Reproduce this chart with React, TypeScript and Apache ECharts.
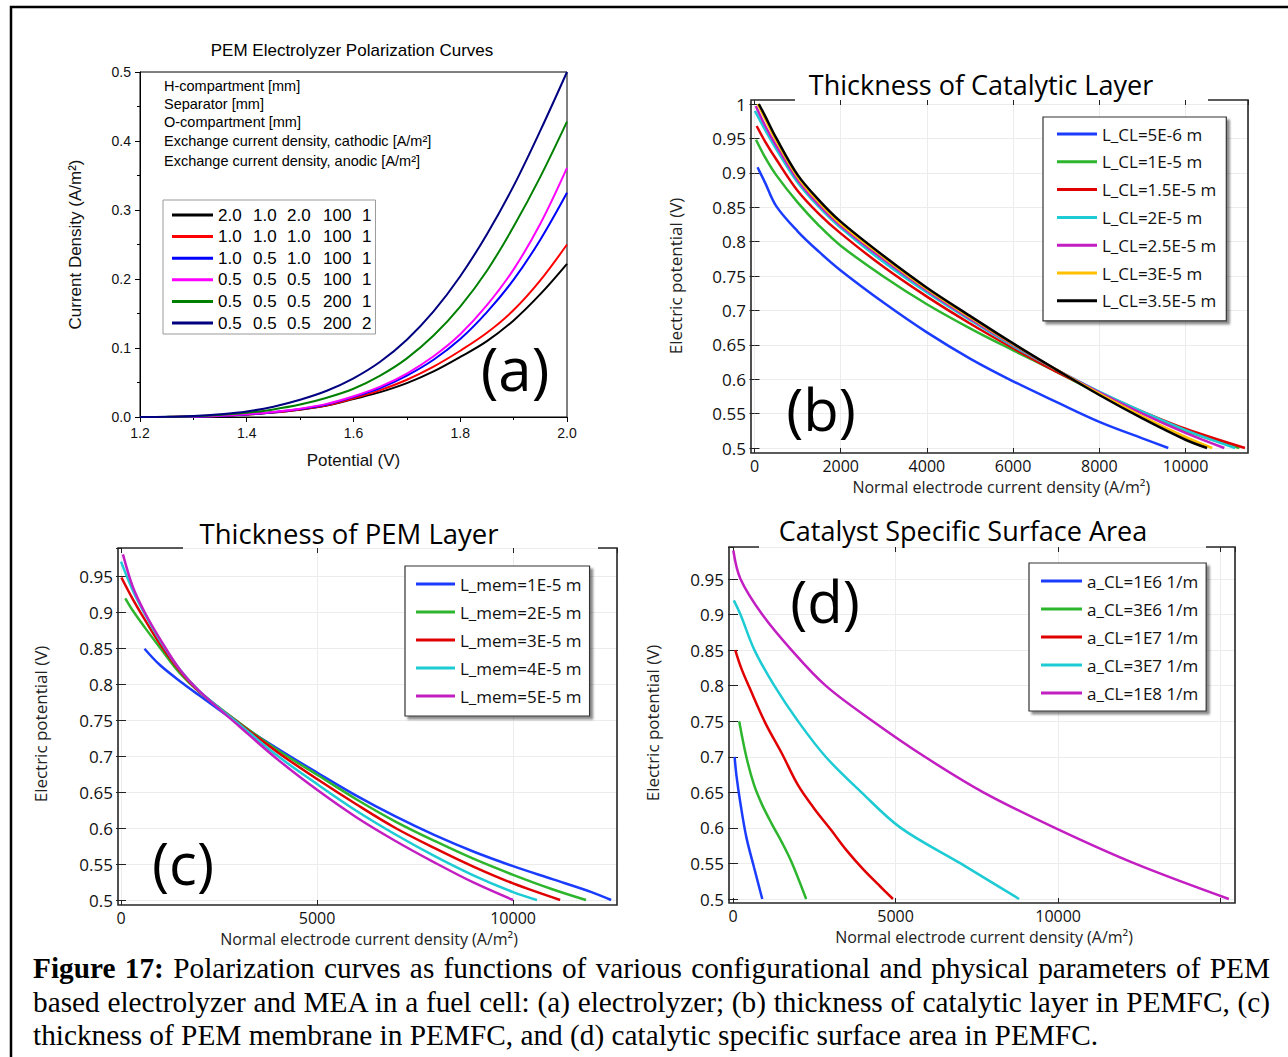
import React, { useEffect, useRef } from 'react';
import * as echarts from 'echarts';

// ---------- Panel (a): PEM electrolyzer ----------
const aPotentialV = [1.2, 1.25, 1.3, 1.35, 1.4, 1.45, 1.5, 1.55, 1.6, 1.65, 1.7, 1.75, 1.8, 1.85, 1.9, 1.95, 2.0];
const aSeriesNames = ['2.0 1.0 2.0 100 1', '1.0 1.0 1.0 100 1', '1.0 0.5 1.0 100 1', '0.5 0.5 0.5 100 1', '0.5 0.5 0.5 200 1', '0.5 0.5 0.5 200 2'];
const aColors = ['#000000', '#ff0000', '#0000ff', '#ff00ff', '#008000', '#000080'];
const aBlack = [0, 0.0001, 0.0005, 0.0015, 0.0035, 0.0065, 0.0105, 0.0165, 0.026, 0.036, 0.049, 0.066, 0.087, 0.11, 0.14, 0.178, 0.222];
const aRed = [0, 0.0001, 0.0005, 0.0015, 0.0035, 0.0067, 0.011, 0.017, 0.027, 0.039, 0.054, 0.073, 0.096, 0.122, 0.155, 0.198, 0.25];
const aBlue = [0, 0.0001, 0.0005, 0.0016, 0.0037, 0.007, 0.0115, 0.018, 0.029, 0.042, 0.06, 0.083, 0.113, 0.152, 0.199, 0.257, 0.325];
const aMagenta = [0, 0.0001, 0.0006, 0.0017, 0.0039, 0.0073, 0.012, 0.019, 0.03, 0.044, 0.063, 0.088, 0.12, 0.162, 0.214, 0.28, 0.361];
const aGreen = [0, 0.0002, 0.001, 0.003, 0.006, 0.011, 0.018, 0.028, 0.041, 0.06, 0.085, 0.118, 0.16, 0.212, 0.276, 0.348, 0.428];
const aNavy = [0, 0.0003, 0.0015, 0.004, 0.008, 0.015, 0.025, 0.038, 0.056, 0.08, 0.112, 0.153, 0.204, 0.265, 0.335, 0.415, 0.5];
const aCurves = [aBlack, aRed, aBlue, aMagenta, aGreen, aNavy];
const aAnnotations = [
  'H-compartment [mm]',
  'Separator [mm]',
  'O-compartment [mm]',
  'Exchange current density, cathodic [A/m\u00b2]',
  'Exchange current density, anodic [A/m\u00b2]',
];

// ---------- COMSOL colour cycle ----------
const cBlue = '#1a3cff';
const cGreen = '#2db52d';
const cRed = '#e00000';
const cCyan = '#1ccbd4';
const cMagenta = '#c21ec2';
const cYellow = '#ffc000';
const cBlack = '#000000';

// ---------- Panel (b): thickness of catalytic layer ----------
const bSeriesNames = ['L_CL=5E-6 m', 'L_CL=1E-5 m', 'L_CL=1.5E-5 m', 'L_CL=2E-5 m', 'L_CL=2.5E-5 m', 'L_CL=3E-5 m', 'L_CL=3.5E-5 m'];
const bColors = [cBlue, cGreen, cRed, cCyan, cMagenta, cYellow, cBlack];
const bL5e6 = [[70, 0.908], [250, 0.885], [500, 0.852], [1000, 0.815], [1500, 0.785], [2000, 0.758], [3000, 0.711], [4000, 0.668], [5000, 0.63], [6000, 0.597], [7000, 0.567], [8000, 0.538], [9000, 0.514], [9600, 0.5]];
const bL1e5 = [[35, 0.948], [250, 0.922], [500, 0.897], [1000, 0.857], [1500, 0.823], [2000, 0.794], [3000, 0.749], [4000, 0.709], [5000, 0.674], [6000, 0.642], [7000, 0.611], [8000, 0.579], [9000, 0.551], [10000, 0.525], [11250, 0.5]];
const bL15e5 = [[50, 0.968], [250, 0.945], [500, 0.92], [1000, 0.874], [1500, 0.84], [2000, 0.812], [3000, 0.763], [4000, 0.72], [5000, 0.681], [6000, 0.645], [7000, 0.611], [8000, 0.581], [9000, 0.553], [10000, 0.528], [11380, 0.5]];
const bL2e5 = [[10, 0.99], [250, 0.962], [500, 0.935], [1000, 0.886], [1500, 0.85], [2000, 0.82], [3000, 0.77], [4000, 0.726], [5000, 0.686], [6000, 0.648], [7000, 0.614], [8000, 0.582], [9000, 0.553], [10000, 0.526], [11150, 0.5]];
const bL25e5 = [[30, 0.997], [250, 0.968], [500, 0.94], [1000, 0.89], [1500, 0.853], [2000, 0.823], [3000, 0.774], [4000, 0.729], [5000, 0.688], [6000, 0.65], [7000, 0.614], [8000, 0.581], [9000, 0.55], [10000, 0.522], [10900, 0.5]];
const bL3e5 = [[75, 1.0], [250, 0.978], [500, 0.947], [1000, 0.894], [1500, 0.857], [2000, 0.826], [3000, 0.777], [4000, 0.731], [5000, 0.69], [6000, 0.651], [7000, 0.614], [8000, 0.579], [9000, 0.546], [10000, 0.516], [10620, 0.5]];
const bL35e5 = [[100, 1.0], [250, 0.982], [500, 0.951], [1000, 0.897], [1500, 0.86], [2000, 0.829], [3000, 0.779], [4000, 0.733], [5000, 0.692], [6000, 0.652], [7000, 0.614], [8000, 0.577], [9000, 0.543], [10000, 0.512], [10500, 0.5]];
const bCurves = [bL5e6, bL1e5, bL15e5, bL2e5, bL25e5, bL3e5, bL35e5];

// ---------- Panel (c): thickness of PEM layer ----------
const cSeriesNames = ['L_mem=1E-5 m', 'L_mem=2E-5 m', 'L_mem=3E-5 m', 'L_mem=4E-5 m', 'L_mem=5E-5 m'];
const cColors = [cBlue, cGreen, cRed, cCyan, cMagenta];
const cM1e5 = [[600, 0.849], [1000, 0.826], [1600, 0.8], [2000, 0.784], [3000, 0.745], [4000, 0.71], [5000, 0.677], [6000, 0.645], [7000, 0.616], [8000, 0.59], [9000, 0.567], [10000, 0.547], [11000, 0.529], [12000, 0.511], [12500, 0.5]];
const cM2e5 = [[110, 0.919], [300, 0.902], [600, 0.879], [1000, 0.85], [1500, 0.815], [2000, 0.789], [3000, 0.747], [4000, 0.708], [5000, 0.674], [6000, 0.64], [7000, 0.609], [8000, 0.582], [9000, 0.557], [10000, 0.535], [11000, 0.515], [11860, 0.5]];
const cM3e5 = [[10, 0.948], [300, 0.918], [600, 0.89], [1000, 0.855], [1500, 0.818], [2000, 0.789], [3000, 0.746], [4000, 0.705], [5000, 0.668], [6000, 0.633], [7000, 0.6], [8000, 0.572], [9000, 0.546], [10000, 0.523], [11200, 0.5]];
const cM4e5 = [[0, 0.97], [300, 0.93], [600, 0.898], [1000, 0.86], [1500, 0.82], [2000, 0.79], [3000, 0.745], [4000, 0.7], [5000, 0.661], [6000, 0.624], [7000, 0.591], [8000, 0.561], [9000, 0.534], [10000, 0.511], [10610, 0.5]];
const cM5e5 = [[50, 0.98], [300, 0.935], [600, 0.9], [1000, 0.862], [1500, 0.82], [2000, 0.79], [3000, 0.742], [4000, 0.695], [5000, 0.653], [6000, 0.615], [7000, 0.582], [8000, 0.552], [9000, 0.524], [10000, 0.5]];
const cCurves = [cM1e5, cM2e5, cM3e5, cM4e5, cM5e5];

// ---------- Panel (d): catalyst specific surface area ----------
const dSeriesNames = ['a_CL=1E6 1/m', 'a_CL=3E6 1/m', 'a_CL=1E7 1/m', 'a_CL=3E7 1/m', 'a_CL=1E8 1/m'];
const dColors = [cBlue, cGreen, cRed, cCyan, cMagenta];
const dA1e6 = [[50, 0.7], [110, 0.672], [230, 0.634], [410, 0.587], [650, 0.544], [900, 0.5]];
const dA3e6 = [[190, 0.75], [410, 0.7], [650, 0.66], [900, 0.632], [1200, 0.605], [1500, 0.58], [1800, 0.552], [2250, 0.5]];
const dA1e7 = [[70, 0.85], [250, 0.825], [500, 0.798], [1000, 0.747], [1500, 0.705], [2000, 0.66], [2500, 0.627], [3000, 0.598], [3500, 0.568], [4000, 0.542], [4500, 0.519], [4920, 0.5]];
const dA3e7 = [[25, 0.92], [230, 0.9], [660, 0.85], [1270, 0.8], [2000, 0.75], [2850, 0.7], [3950, 0.65], [5160, 0.6], [7000, 0.55], [8800, 0.5]];
const dA1e8 = [[10, 0.99], [230, 0.95], [900, 0.9], [1800, 0.85], [2850, 0.8], [4300, 0.75], [5900, 0.7], [7700, 0.65], [9900, 0.6], [12350, 0.55], [15250, 0.5]];
const dCurves = [dA1e6, dA3e6, dA1e7, dA3e7, dA1e8];

const captionLines = [
  'Polarization curves as functions of various configurational and physical parameters of PEM',
  'based electrolyzer and MEA in a fuel cell: (a) electrolyzer; (b) thickness of catalytic layer in PEMFC, (c)',
  'thickness of PEM membrane in PEMFC, and (d) catalytic specific surface area in PEMFC.',
];

const COMSOL = 'Open Sans';
const ARIAL = 'Liberation Sans';
const XNAME = 'Normal electrode current density (A/m\u00b2)';
const YNAME = 'Electric potential (V)';

function comsolX(g: number, max: number, interval: number, offBottom: number, offTop: number, lastLabel: number) {
  const tick = { show: true, inside: true, length: 5, lineStyle: { color: '#222', width: 1 } };
  return [
    {
      type: 'value', gridIndex: g, position: 'bottom', min: 0, max, interval, offset: offBottom,
      axisLine: { show: false }, axisTick: tick,
      axisLabel: {
        margin: 5, fontSize: 16, fontFamily: COMSOL, color: '#111', showMaxLabel: false,
        formatter: (v: number) => (v > lastLabel ? '' : String(Math.round(v))),
      },
      splitLine: { show: true, lineStyle: { color: '#ececec', width: 1 } },
      name: XNAME, nameLocation: 'middle', nameGap: 26, nameMoveOverlap: false,
      nameTextStyle: { fontSize: 16, fontFamily: COMSOL, color: '#222' },
    },
    {
      type: 'value', gridIndex: g, position: 'top', min: 0, max, interval, offset: offTop,
      axisLine: { show: false }, axisTick: tick, axisLabel: { show: false }, splitLine: { show: false },
    },
  ];
}

function comsolY(g: number, max: number, offLeft: number, nameGap: number, showMax: boolean) {
  const tick = { show: true, inside: true, length: 5, lineStyle: { color: '#222', width: 1 } };
  return [
    {
      type: 'value', gridIndex: g, position: 'left', min: 0.5, max, interval: 0.05, offset: offLeft,
      axisLine: { show: false }, axisTick: tick,
      axisLabel: { margin: 5, fontSize: 17, fontFamily: COMSOL, color: '#111', showMaxLabel: showMax },
      splitLine: { show: true, lineStyle: { color: '#ececec', width: 1 } },
      name: YNAME, nameLocation: 'middle', nameGap, nameMoveOverlap: false,
      nameTextStyle: { fontSize: 17, fontFamily: COMSOL, color: '#222' },
    },
    {
      type: 'value', gridIndex: g, position: 'right', min: 0.5, max, interval: 0.05, offset: 0,
      axisLine: { show: false }, axisTick: tick, axisLabel: { show: false }, splitLine: { show: false },
    },
  ];
}

function line(name: string, color: string, data: number[][], axis: number, width: number) {
  return {
    type: 'line', name, data, xAxisIndex: axis, yAxisIndex: axis,
    showSymbol: false, symbol: 'none', smooth: 0.35, clip: false, silent: true,
    lineStyle: { color, width }, itemStyle: { color }, emphasis: { disabled: true },
  };
}

function comsolLegend(names: string[], left: number, top: number, padding: number[], itemWidth: number, itemGap: number) {
  return {
    show: true, orient: 'vertical', left, top, padding, itemWidth, itemHeight: 3, itemGap, icon: 'rect',
    selectedMode: false, data: names,
    textStyle: { fontSize: 17, fontFamily: COMSOL, color: '#111', lineHeight: 20 },
    backgroundColor: '#fff', borderColor: '#333', borderWidth: 1.2,
    shadowColor: 'rgba(0,0,0,0.45)', shadowBlur: 2, shadowOffsetX: 3, shadowOffsetY: 3,
  };
}

function comsolBox(left: number, top: number, right: number, bottom: number, gapL: number, gapR: number) {
  return {
    type: 'polyline', z: 10, silent: true,
    shape: { points: [[gapL, top], [left, top], [left, bottom], [right, bottom], [right, top], [gapR, top]] },
    style: { stroke: '#262626', lineWidth: 1.6, fill: null },
  };
}

function label(text: string, x: number, y: number, size: number, family: string, align = 'center') {
  return {
    type: 'text', x, y, z: 12, silent: true,
    style: { text, fontSize: size, fontFamily: family, fill: '#000', align, verticalAlign: 'middle' },
  };
}

function buildOption() {
  const series: any[] = [];
  aCurves.forEach((curve, i) => {
    series.push(line(aSeriesNames[i], aColors[i], aPotentialV.map((v, k) => [v, curve[k]]), 0, 2));
  });
  bCurves.forEach((c, i) => series.push(line(bSeriesNames[i], bColors[i], c, 1, 2.5)));
  cCurves.forEach((c, i) => series.push(line(cSeriesNames[i], cColors[i], c, 3, 2.5)));
  dCurves.forEach((c, i) => series.push(line(dSeriesNames[i], dColors[i], c, 5, 2.5)));

  const aRich: any = {};
  const colW = [35, 34, 36, 39, 0];
  colW.forEach((w, i) => {
    aRich['c' + i] = { fontSize: 17, fontFamily: ARIAL, color: '#000', lineHeight: 18, ...(w ? { width: w } : {}) };
  });

  const graphic: any[] = [
    { type: 'polyline', silent: true, shape: { points: [[11, 1057], [11, 7], [1288, 7]] }, style: { stroke: '#000', lineWidth: 2.5, fill: null } },
    comsolBox(751, 100, 1248, 453, 795, 1208),
    comsolBox(118, 548, 617, 905, 183, 598),
    comsolBox(729, 547, 1235, 903, 759, 1206),
    label('PEM Electrolyzer Polarization Curves', 352, 50, 17, ARIAL),
    label('Thickness of Catalytic Layer', 981, 84, 27, COMSOL),
    label('Thickness of PEM Layer', 349, 533, 27.5, COMSOL),
    label('Catalyst Specific Surface Area', 963, 530, 27, COMSOL),
    label('(a)', 515, 368, 60, COMSOL),
    label('(b)', 821, 408, 58, COMSOL),
    label('(c)', 183, 862, 58, COMSOL),
    label('(d)', 825, 600, 58, COMSOL),
  ];
  const annY = [86, 104, 122, 141, 161];
  aAnnotations.forEach((t, i) => graphic.push(label(t, 164, annY[i], 14.5, ARIAL, 'left')));

  return {
    animation: false,
    backgroundColor: '#ffffff',
    grid: [
      { left: 140, top: 72, width: 427, height: 345, show: true, borderColor: '#000', borderWidth: 1, backgroundColor: 'transparent', containLabel: false, outerBoundsMode: 'none' },
      { left: 754.5, top: 104, width: 493.5, height: 344, containLabel: false, outerBoundsMode: 'none' },
      { left: 121, top: 548, width: 496, height: 352, containLabel: false, outerBoundsMode: 'none' },
      { left: 733, top: 547, width: 502, height: 352, containLabel: false, outerBoundsMode: 'none' },
    ],
    xAxis: [
      {
        type: 'value', gridIndex: 0, position: 'bottom', min: 1.2, max: 2.0, interval: 0.2,
        axisLine: { show: true, lineStyle: { color: '#000', width: 1 } },
        axisTick: { show: true, inside: false, length: 5, lineStyle: { color: '#000' } },
        minorTick: { show: true, splitNumber: 2, length: 3, lineStyle: { color: '#000' } },
        axisLabel: { margin: 9, fontSize: 14, fontFamily: ARIAL, color: '#111', formatter: (v: number) => v.toFixed(1) },
        splitLine: { show: false },
        name: 'Potential (V)', nameLocation: 'middle', nameGap: 35, nameMoveOverlap: false,
        nameTextStyle: { fontSize: 17, fontFamily: ARIAL, color: '#111' },
      },
      ...comsolX(1, 11450, 2000, 5, 4, 10000),
      ...comsolX(2, 12650, 5000, 5, 0, 10000),
      ...comsolX(3, 15440, 5000, 4, 0, 10000),
    ],
    yAxis: [
      {
        type: 'value', gridIndex: 0, position: 'left', min: 0, max: 0.5, interval: 0.1,
        axisLine: { show: true, lineStyle: { color: '#000', width: 1 } },
        axisTick: { show: true, inside: false, length: 5, lineStyle: { color: '#000' } },
        minorTick: { show: true, splitNumber: 2, length: 3, lineStyle: { color: '#000' } },
        axisLabel: { margin: 9, fontSize: 14, fontFamily: ARIAL, color: '#111', formatter: (v: number) => v.toFixed(1) },
        splitLine: { show: false },
        name: 'Current Density (A/m\u00b2)', nameLocation: 'middle', nameGap: 56, nameMoveOverlap: false,
        nameTextStyle: { fontSize: 17, fontFamily: ARIAL, color: '#111' },
      },
      ...comsolY(1, 1.0, 3.5, 67, true),
      ...comsolY(2, 0.9889, 3, 69, false),
      ...comsolY(3, 0.995, 4, 68, false),
    ],
    legend: [
      {
        show: true, orient: 'vertical', left: 163, top: 200, padding: [6, 4, 2, 9], itemWidth: 41, itemHeight: 3, itemGap: 3.6,
        icon: 'rect', selectedMode: false, data: aSeriesNames,
        formatter: (name: string) => {
          const p = name.split(' ');
          return `{c0|${p[0]}}{c1|${p[1]}}{c2|${p[2]}}{c3|${p[3]}}{c4|${p[4]}}`;
        },
        textStyle: { fontSize: 17, fontFamily: ARIAL, color: '#000', lineHeight: 18, rich: aRich },
        backgroundColor: '#fff', borderColor: '#999', borderWidth: 1,
      },
      comsolLegend(bSeriesNames, 1043, 117, [7, 10, 10, 14], 40, 7.8),
      comsolLegend(cSeriesNames, 405, 566, [8, 8, 10, 11], 39, 8),
      comsolLegend(dSeriesNames, 1029, 563, [8, 8, 8, 12], 41, 8),
    ],
    graphic,
    series,
  };
}

export default function App() {
  const ref = useRef<HTMLDivElement>(null);
  useEffect(() => {
    if (!ref.current) return;
    const chart = echarts.init(ref.current, null, { renderer: 'svg' });
    chart.setOption(buildOption() as any);
    return () => chart.dispose();
  }, []);
  const capStyle: React.CSSProperties = {
    position: 'absolute', left: 33, top: 952, width: 1237,
    fontFamily: '"Liberation Serif", "Times New Roman", serif', fontSize: 29.3, lineHeight: '33.5px', color: '#000',
  };
  return (
    <div style={{ position: 'absolute', left: 0, top: 0, width: 1288, height: 1057, background: '#fff', overflow: 'hidden' }}>
      <div ref={ref} style={{ position: 'absolute', left: 0, top: 0, width: 1288, height: 1057 }} />
      <div style={capStyle}>
        <div style={{ textAlign: 'justify', textAlignLast: 'justify', whiteSpace: 'nowrap' }}>
          <b>Figure 17:</b> {captionLines[0]}
        </div>
        <div style={{ textAlign: 'justify', textAlignLast: 'justify', whiteSpace: 'nowrap' }}>{captionLines[1]}</div>
        <div style={{ textAlign: 'left', whiteSpace: 'nowrap' }}>{captionLines[2]}</div>
      </div>
    </div>
  );
}
